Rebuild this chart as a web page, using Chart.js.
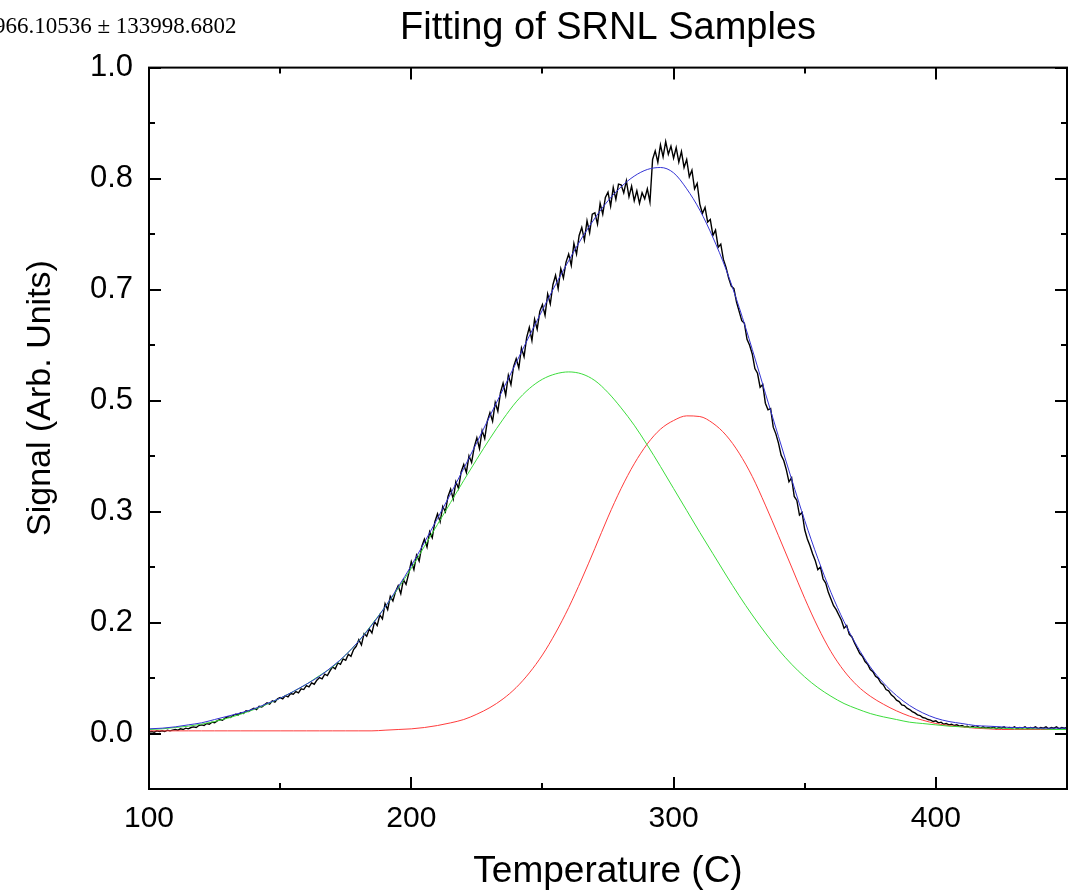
<!DOCTYPE html>
<html>
<head>
<meta charset="utf-8">
<script src="https://cdn.jsdelivr.net/npm/chart.js@4.4.1/dist/chart.umd.min.js"></script>
<style>
  html, body { margin: 0; padding: 0; background: #fff; }
  canvas { display: block; }
</style>
</head>
<body>
<canvas id="chart" width="1076" height="895"></canvas>
<script>
// Measured signal, one reading per degree starting at 100 C
const signalStart = 100;
const signalStep = 1;
const signal = [
  0.002, 0.003, 0.002, 0.004, 0.003, 0.004, 0.003, 0.005, 0.004, 0.005,
  0.006, 0.005, 0.007, 0.006, 0.008, 0.007, 0.009, 0.010, 0.009, 0.012,
  0.013, 0.012, 0.015, 0.014, 0.017, 0.016, 0.019, 0.021, 0.020, 0.023,
  0.025, 0.024, 0.027, 0.029, 0.028, 0.031, 0.030, 0.034, 0.033, 0.036,
  0.038, 0.036, 0.041, 0.040, 0.043, 0.046, 0.044, 0.049, 0.047, 0.052,
  0.054, 0.052, 0.057, 0.055, 0.060, 0.059, 0.063, 0.061, 0.067, 0.066,
  0.072, 0.070, 0.076, 0.074, 0.080, 0.084, 0.082, 0.089, 0.087, 0.094,
  0.100, 0.097, 0.106, 0.104, 0.112, 0.110, 0.119, 0.116, 0.126, 0.131,
  0.141, 0.133, 0.150, 0.146, 0.157, 0.151, 0.168, 0.162, 0.178, 0.172,
  0.195, 0.186, 0.206, 0.199, 0.213, 0.222, 0.210, 0.231, 0.224, 0.240,
  0.258, 0.246, 0.268, 0.259, 0.281, 0.292, 0.280, 0.303, 0.294, 0.318,
  0.330, 0.318, 0.341, 0.333, 0.356, 0.367, 0.352, 0.378, 0.368, 0.393,
  0.404, 0.392, 0.417, 0.407, 0.430, 0.444, 0.428, 0.455, 0.443, 0.469,
  0.482, 0.469, 0.497, 0.484, 0.512, 0.526, 0.508, 0.538, 0.524, 0.551,
  0.563, 0.549, 0.579, 0.566, 0.595, 0.610, 0.590, 0.622, 0.607, 0.634,
  0.644, 0.628, 0.660, 0.645, 0.674, 0.688, 0.668, 0.698, 0.684, 0.708,
  0.720, 0.703, 0.736, 0.720, 0.748, 0.760, 0.741, 0.770, 0.752, 0.780,
  0.782, 0.765, 0.796, 0.780, 0.805, 0.813, 0.792, 0.820, 0.802, 0.825,
  0.824, 0.812, 0.830, 0.806, 0.822, 0.800, 0.815, 0.796, 0.812, 0.803,
  0.818, 0.798, 0.862, 0.875, 0.858, 0.884, 0.866, 0.889, 0.870, 0.882,
  0.864, 0.880, 0.858, 0.874, 0.850, 0.862, 0.836, 0.846, 0.818, 0.826,
  0.795, 0.781, 0.790, 0.768, 0.772, 0.748, 0.756, 0.730, 0.735, 0.712,
  0.700, 0.684, 0.672, 0.668, 0.648, 0.634, 0.620, 0.616, 0.592, 0.583,
  0.570, 0.548, 0.541, 0.520, 0.524, 0.496, 0.486, 0.488, 0.460, 0.450,
  0.436, 0.418, 0.410, 0.396, 0.378, 0.384, 0.356, 0.350, 0.328, 0.332,
  0.306, 0.292, 0.282, 0.270, 0.260, 0.246, 0.250, 0.232, 0.226, 0.212,
  0.202, 0.192, 0.186, 0.178, 0.170, 0.158, 0.162, 0.149, 0.145, 0.136,
  0.128, 0.120, 0.116, 0.108, 0.104, 0.096, 0.093, 0.086, 0.083, 0.076,
  0.073, 0.066, 0.064, 0.058, 0.055, 0.050, 0.048, 0.043, 0.042, 0.038,
  0.036, 0.033, 0.031, 0.028, 0.027, 0.024, 0.023, 0.021, 0.020, 0.018,
  0.019, 0.016, 0.017, 0.014, 0.015, 0.013, 0.014, 0.012, 0.013, 0.011,
  0.012, 0.010, 0.011, 0.009, 0.011, 0.009, 0.010, 0.008, 0.010, 0.008,
  0.009, 0.008, 0.010, 0.007, 0.009, 0.008, 0.010, 0.007, 0.009, 0.008,
  0.010, 0.007, 0.009, 0.008, 0.010, 0.007, 0.009, 0.008, 0.010, 0.007,
  0.009, 0.008, 0.010, 0.007, 0.009, 0.008, 0.010, 0.007, 0.009, 0.008,
  0.009
];

// Fitted curves, read every 5 C
const fitTemps = [
  100, 105, 110, 115, 120, 125, 130, 135, 140, 145,
  150, 155, 160, 165, 170, 175, 180, 185, 190, 195,
  200, 205, 210, 215, 220, 225, 230, 235, 240, 245,
  250, 255, 260, 265, 270, 275, 280, 285, 290, 295,
  300, 305, 310, 315, 320, 325, 330, 335, 340, 345,
  350, 355, 360, 365, 370, 375, 380, 385, 390, 395,
  400, 405, 410, 415, 420, 425, 430, 435, 440, 445, 450
];
const cumulativeFit = [
  0.007, 0.008, 0.010, 0.013, 0.016, 0.021, 0.026, 0.031, 0.037, 0.045,
  0.053, 0.063, 0.074, 0.086, 0.101, 0.118, 0.139, 0.163, 0.190, 0.220,
  0.252, 0.287, 0.323, 0.360, 0.398, 0.437, 0.477, 0.517, 0.557, 0.597,
  0.636, 0.674, 0.710, 0.744, 0.774, 0.800, 0.821, 0.837, 0.847, 0.850,
  0.842, 0.818, 0.786, 0.745, 0.697, 0.640, 0.577, 0.511, 0.446, 0.382,
  0.320, 0.263, 0.212, 0.168, 0.131, 0.100, 0.076, 0.057, 0.042, 0.031,
  0.023, 0.018, 0.015, 0.012, 0.011, 0.010, 0.009, 0.009, 0.008, 0.008, 0.008
];
const peakLow = [
  0.006, 0.007, 0.009, 0.011, 0.014, 0.018, 0.023, 0.029, 0.036, 0.044,
  0.053, 0.063, 0.074, 0.087, 0.100, 0.118, 0.139, 0.164, 0.190, 0.218,
  0.248, 0.281, 0.314, 0.347, 0.380, 0.412, 0.443, 0.472, 0.498, 0.518,
  0.532, 0.540, 0.543, 0.540, 0.530, 0.512, 0.489, 0.463, 0.433, 0.401,
  0.368, 0.335, 0.302, 0.270, 0.238, 0.207, 0.178, 0.151, 0.126, 0.104,
  0.085, 0.069, 0.056, 0.045, 0.037, 0.030, 0.025, 0.021, 0.017, 0.015,
  0.013, 0.011, 0.010, 0.009, 0.008, 0.008, 0.007, 0.007, 0.007, 0.006, 0.006
];
const peakHigh = [
  0.004, 0.004, 0.004, 0.004, 0.004, 0.004, 0.004, 0.004, 0.004, 0.004,
  0.004, 0.004, 0.004, 0.004, 0.004, 0.004, 0.004, 0.004, 0.005, 0.006,
  0.007, 0.009, 0.012, 0.016, 0.021, 0.029, 0.039, 0.052, 0.069, 0.091,
  0.118, 0.151, 0.189, 0.232, 0.278, 0.325, 0.368, 0.405, 0.435, 0.457,
  0.470, 0.477, 0.476, 0.466, 0.448, 0.421, 0.386, 0.343, 0.297, 0.250,
  0.203, 0.160, 0.123, 0.094, 0.072, 0.056, 0.044, 0.034, 0.026, 0.020,
  0.015, 0.012, 0.010, 0.008, 0.007, 0.006, 0.006, 0.006, 0.006, 0.006, 0.006
];

// Axis ticks
const xTicks = [100, 200, 300, 400];
const xMinorTicks = [150, 250, 350];
const yTicks = [0, 0.16667, 0.33333, 0.5, 0.66667, 0.83333, 1.0];
const yTickLabels = ['0.0', '0.2', '0.3', '0.5', '0.7', '0.8', '1.0'];
const yMinorTicks = [0.08333, 0.25, 0.41667, 0.58333, 0.75, 0.91667];

const sans = "'Liberation Sans', Arial, sans-serif";

function toPoints(xs, ys) {
  return ys.map((y, i) => ({x: xs[i], y: y}));
}
let signalPoints = signal.map((y, i) => ({x: signalStart + i * signalStep, y: y}));

// Box, inward ticks on all four sides, y title and the cut off note
const framePlugin = {
  id: 'frame',
  afterDatasetsDraw(chart) {
    const {ctx, chartArea: a, scales} = chart;
    const x = scales.x, y = scales.y;
    ctx.save();
    ctx.strokeStyle = '#000';
    ctx.lineWidth = 2;
    ctx.beginPath();
    function seg(x1, y1, x2, y2) { ctx.moveTo(x1, y1); ctx.lineTo(x2, y2); }
    function xTick(v, len) {
      let px = Math.round(x.getPixelForValue(v));
      seg(px, a.bottom, px, a.bottom - len);
      seg(px, a.top, px, a.top + len);
    }
    function yTick(v, len) {
      let py = Math.round(y.getPixelForValue(v));
      seg(a.left, py, a.left + len, py);
      seg(a.right, py, a.right - len, py);
    }
    xTicks.forEach(v => xTick(v, 12));
    xMinorTicks.forEach(v => xTick(v, 6));
    yTicks.forEach(v => yTick(v, 12));
    yMinorTicks.forEach(v => yTick(v, 6));
    ctx.stroke();
    ctx.strokeRect(a.left, a.top, a.right - a.left, a.bottom - a.top);

    ctx.fillStyle = '#000';
    ctx.font = '34px ' + sans;
    ctx.textAlign = 'center';
    ctx.textBaseline = 'middle';
    ctx.translate(41, 398);
    ctx.rotate(-Math.PI / 2);
    ctx.fillText('Signal (Arb. Units)', 0, 0);
    ctx.restore();

    ctx.save();
    ctx.fillStyle = '#000';
    ctx.font = "23px 'Liberation Serif', serif";
    ctx.textAlign = 'left';
    ctx.textBaseline = 'alphabetic';
    ctx.fillText('966.10536 \u00b1 133998.6802', -6, 33);
    ctx.restore();
  }
};

new Chart(document.getElementById('chart'), {
  type: 'line',
  data: {
    datasets: [
      {label: 'Signal', data: signalPoints, borderColor: '#000000', borderWidth: 1.4, pointRadius: 0, order: 4},
      {label: 'Peak 2', data: toPoints(fitTemps, peakHigh), borderColor: '#ff3c3c', borderWidth: 1, pointRadius: 0, cubicInterpolationMode: 'monotone', order: 3},
      {label: 'Peak 1', data: toPoints(fitTemps, peakLow), borderColor: '#3cdc3c', borderWidth: 1, pointRadius: 0, cubicInterpolationMode: 'monotone', order: 2},
      {label: 'Cumulative Fit', data: toPoints(fitTemps, cumulativeFit), borderColor: '#3434d4', borderWidth: 1, pointRadius: 0, cubicInterpolationMode: 'monotone', order: 1}
    ]
  },
  options: {
    responsive: false,
    animation: false,
    devicePixelRatio: 1,
    layout: {padding: {left: 0, right: 9, top: 0, bottom: 0}},
    plugins: {
      legend: {display: false},
      tooltip: {enabled: false},
      title: {
        display: true,
        text: 'Fitting of SRNL Samples',
        fullSize: false,
        color: '#000',
        font: {family: sans, size: 38, weight: 'normal'},
        padding: {top: 6, bottom: 16}
      }
    },
    scales: {
      x: {
        type: 'linear',
        min: 100,
        max: 450,
        grid: {display: false, drawTicks: false},
        border: {display: false},
        afterBuildTicks: s => { s.ticks = xTicks.map(v => ({value: v})); },
        afterFit: s => { s.height = 106; },
        ticks: {color: '#000', padding: 12, maxRotation: 0, autoSkip: false, font: {family: sans, size: 30}, callback: v => String(v)},
        title: {display: true, text: 'Temperature (C)', color: '#000', font: {family: sans, size: 37}, padding: {top: 0, bottom: 1}}
      },
      y: {
        type: 'linear',
        min: -0.08333,
        max: 1,
        grid: {display: false, drawTicks: false},
        border: {display: false},
        afterBuildTicks: s => { s.ticks = yTicks.map(v => ({value: v})); },
        afterFit: s => { s.width = 149; },
        ticks: {color: '#000', padding: 16, font: {family: sans, size: 31}, callback: (v, i) => yTickLabels[i]}
      }
    }
  },
  plugins: [framePlugin]
});
</script>
</body>
</html>
